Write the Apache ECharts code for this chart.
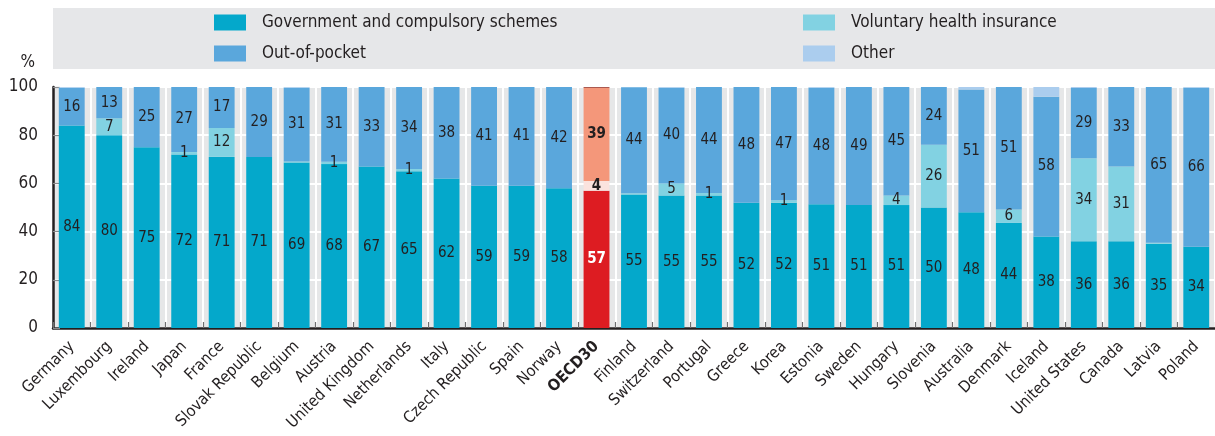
<!DOCTYPE html>
<html>
<head>
<meta charset="utf-8">
<script src="https://cdn.jsdelivr.net/npm/echarts@6/dist/echarts.min.js"></script>
<style>
html,body{margin:0;padding:0;background:#fff;}
#c{width:1215px;height:436px;}
</style>
</head>
<body>
<div id="c"></div>
<script>
const categories = ['Germany','Luxembourg','Ireland','Japan','France','Slovak Republic','Belgium','Austria','United Kingdom','Netherlands','Italy','Czech Republic','Spain','Norway','OECD30','Finland','Switzerland','Portugal','Greece','Korea','Estonia','Sweden','Hungary','Slovenia','Australia','Denmark','Iceland','United States','Canada','Latvia','Poland'];
const government = [84,80,75,72,71,71,68.7,68,67,65,62,59,59,58,57,55.4,55,55,52,52,51.4,51,51,50,48,43.6,38,36,36,35,33.7];
const voluntary  = [0,7,0,1,12,0,0.4,1,0,1,0,0,0,0,4,0.5,5,1,0,1,0,0,4,26,0,5.6,0,34.4,31,0.4,0];
const outOfPocket= [15.7,13,25,27,17,29,30.6,31,33,34,38,41,41,42,38.7,44,39.7,44,48,47,48.3,49,45,24,51,50.8,58,29.2,33,64.6,66];
const other      = [0.3,0,0,0,0,0,0.3,0,0,0,0,0,0,0,0.3,0,0.3,0,0,0,0.3,0,0,0,1,0,4,0.4,0,0,0.3];
const yTicks = [0,20,40,60,80,100];
const seriesNames = ['Government and compulsory schemes','Voluntary health insurance','Out-of-pocket','Other'];

const FONT = '"Liberation Sans Narrow","DejaVu Sans Condensed","Liberation Sans",sans-serif';
const TXT = '#231f20';
const colors = ['#04a8cb','#82d2e2','#5aa7dc','#abcdee'];
const oecdColors = ['#dd1c22','#fbe3de','#f4977a','#8c2318'];
const OECD = 'OECD30';

function build(arr, idx) {
  return arr.map((v, i) => {
    const item = { value: v };
    if (categories[i] === OECD) {
      item.itemStyle = { color: oecdColors[idx] };
      item.label = { fontWeight: 'bold', color: idx === 0 ? '#ffffff' : TXT };
    }
    return item;
  });
}

const labelFmt = p => (p.value >= 0.95 ? String(Math.round(p.value)) : '');

const series = [government, voluntary, outOfPocket, other].map((arr, k) => ({
  name: seriesNames[k],
  type: 'bar',
  stack: 'total',
  barWidth: '69%',
  color: colors[k],
  itemStyle: { color: colors[k] },
  label: {
    show: k !== 3,
    position: 'inside',
    formatter: labelFmt,
    fontFamily: FONT,
    fontSize: 15,
    color: TXT
  },
  emphasis: { disabled: true },
  data: build(arr, k)
}));

const chart = echarts.init(document.getElementById('c'), null, { renderer: 'canvas' });
chart.setOption({
  animation: false,
  textStyle: { fontFamily: FONT },
  graphic: { elements: [
    { type: 'rect', z: -10, shape: { x: 53, y: 8, width: 1162, height: 61 }, style: { fill: '#e6e7e9' } }
  ]},
  legend: [
    { left: 214, top: 14, orient: 'vertical', padding: 0, itemGap: 14, itemWidth: 32, itemHeight: 16, icon: 'rect', selectedMode: false,
      data: [seriesNames[0], seriesNames[2]],
      textStyle: { fontFamily: FONT, fontSize: 17, color: TXT, padding: [0,0,0,11] } },
    { left: 803, top: 14, orient: 'vertical', padding: 0, itemGap: 14, itemWidth: 32, itemHeight: 16, icon: 'rect', selectedMode: false,
      data: [seriesNames[1], seriesNames[3]],
      textStyle: { fontFamily: FONT, fontSize: 17, color: TXT, padding: [0,0,0,11] } }
  ],
  grid: { left: 53, top: 87, width: 1166, height: 241, show: true, backgroundColor: '#e6e7e8', borderWidth: 0, containLabel: false },
  xAxis: {
    type: 'category',
    data: categories,
    axisLine: { show: true, lineStyle: { color: TXT, width: 2.5 } },
    axisTick: { show: true, inside: true, length: 6, lineStyle: { color: '#6d6e70', width: 1.2 } },
    splitLine: { show: true, lineStyle: { color: '#ffffff', width: 2 } },
    axisLabel: {
      rotate: 45, fontSize: 16, color: TXT, fontFamily: FONT, margin: 16, interval: 0,
      formatter: v => v === OECD ? '{b|' + v + '}' : v,
      rich: { b: { fontWeight: 'bold', fontSize: 16, color: TXT, fontFamily: FONT } }
    }
  },
  yAxis: {
    type: 'value',
    min: yTicks[0], max: yTicks[yTicks.length - 1], interval: 20,
    name: '%',
    nameLocation: 'end',
    nameGap: 16,
    nameTextStyle: { fontSize: 17, color: TXT, fontFamily: FONT, align: 'right', padding: [0, 18, 0, 0] },
    axisLine: { show: true, lineStyle: { color: TXT, width: 2.5 } },
    axisTick: { show: true, inside: true, length: 7, lineStyle: { color: '#8a8b8d', width: 1.2 } },
    splitLine: { show: true, lineStyle: { color: '#ffffff', width: 2 } },
    axisLabel: { fontSize: 17, color: TXT, fontFamily: FONT, margin: 15 }
  },
  series: series
});
</script>
</body>
</html>
